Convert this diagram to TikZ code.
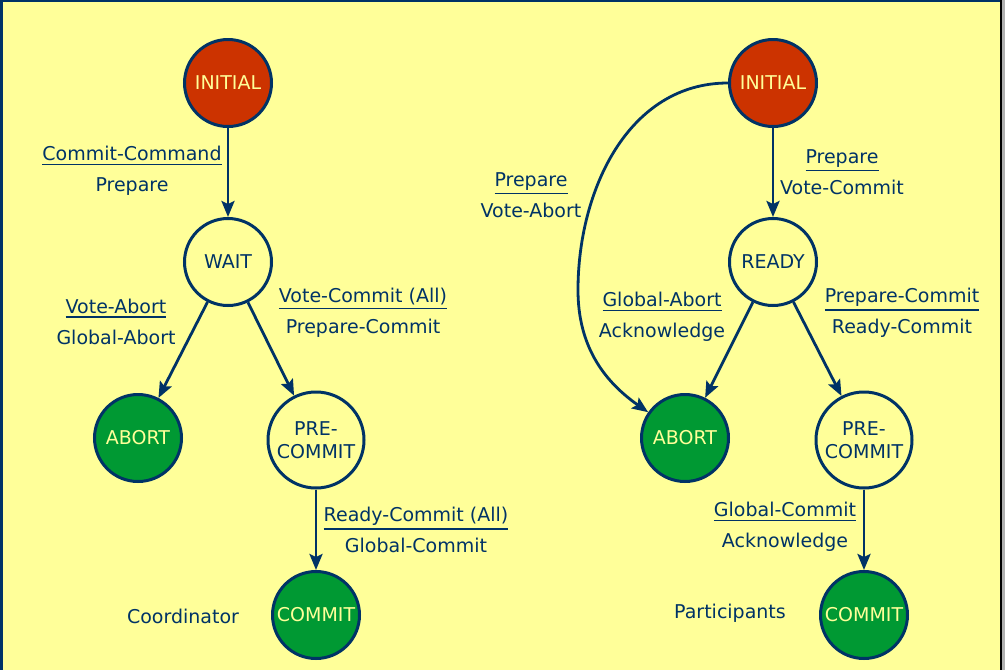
\documentclass[tikz,border=0pt]{standalone}
\usepackage{fontspec}
\setmainfont{DejaVu Sans}
\usetikzlibrary{automata,arrows.meta,positioning}
\definecolor{dunkelblau}{HTML}{003366}
\definecolor{hellgelb}{HTML}{FFFF99}
\definecolor{rot}{HTML}{CC3300}
\definecolor{gruen}{HTML}{009933}
\definecolor{grau}{HTML}{B0B0B0}
% Text mit Strich darunter (Nachricht oben / Antwort unten)
\newcommand{\unterstr}[1]{\setbox0\hbox{#1}\leavevmode\vtop{\copy0\kern2.5pt\hrule height 1.5pt}}

\begin{document}
\begin{tikzpicture}[x=1pt,y=-1pt,
  font=\fontsize{19}{31}\selectfont, text=dunkelblau,
  every state/.style={draw=dunkelblau, line width=3pt, minimum size=87pt, inner sep=0pt,
    fill=hellgelb, align=center, font=\fontsize{19}{23}\selectfont},
  start/.style={fill=rot, text=hellgelb},
  ende/.style={fill=gruen, text=hellgelb},
  gross/.style={minimum size=96pt},
  pfeil/.style={draw=dunkelblau, line width=2.8pt, -{Stealth[length=16pt,width=13pt,inset=3pt]}}]
	 % Hintergrund mit Rahmen:
	 \useasboundingbox (0,0) rectangle (1005,670);
	 \fill[hellgelb] (0,0) rectangle (1005,670);
	 \fill[grau] (1001,0) rectangle (1005,670);
	 \fill[black] (999.5,0) rectangle (1001.5,670);
	 \fill[dunkelblau] (0,0) rectangle (3,670);
	 \fill[dunkelblau] (0,0) rectangle (1000,2);
	 % Zustaende des Koordinators:
	 \node[state,start] (init1) at (228,83) {INITIAL};
	 \node[state] (wait) at (228,262) {WAIT};
	 \node[state,ende] (abort1) at (138,438) {ABORT};
	 \node[state,gross] (pre1) at (316,440) {PRE-\\COMMIT};
	 \node[state,ende] (commit1) at (316,615) {COMMIT};
	 \node (koord) at (183,616) {Coordinator};
	 % Zustaende der Teilnehmer:
	 \node[state,start] (init2) at (773,83) {INITIAL};
	 \node[state] (ready) at (773,262) {READY};
	 \node[state,ende] (abort2) at (685,438) {ABORT};
	 \node[state,gross] (pre2) at (864,440) {PRE-\\COMMIT};
	 \node[state,ende] (commit2) at (864,615) {COMMIT};
	 \node (teiln) at (730,613) {Participants};
	 % Uebergaenge:
	 \draw[pfeil] (init1) -- (wait);
	 \draw[pfeil] (wait) -- (abort1);
	 \draw[pfeil] (wait) -- (pre1);
	 \draw[pfeil] (pre1) -- (commit1);
	 \draw[pfeil] (init2) -- (ready);
	 \draw[pfeil] (ready) -- (abort2);
	 \draw[pfeil] (ready) -- (pre2);
	 \draw[pfeil] (pre2) -- (commit2);
	 % Bogen von INITIAL direkt nach ABORT:
	 \coordinate (bogen) at (578,290);
	 \draw[pfeil] (init2.west) to[out=180,in=90] (bogen) to[out=-90,in=145] (abort2);
	 % Beschriftung der Uebergaenge:
	 \foreach \name/\x/\y/\oben/\unten in {m1/132/171/Commit-Command/Prepare,
	   m2/116/322/Vote-Abort/Global-Abort, m3/363/313/Vote-Commit (All)/Prepare-Commit,
	   m4/416/530/Ready-Commit (All)/Global-Commit, m5/842/172/Prepare/Vote-Commit,
	   m6/531/195/Prepare/Vote-Abort, m7/662/317/Global-Abort/Acknowledge,
	   m8/902/313/Prepare-Commit/Ready-Commit, m9/785/527/Global-Commit/Acknowledge}
	 \node[align=center] (\name) at (\x,\y) {\unterstr{\oben}\\\unten};
\end{tikzpicture}
\end{document}
